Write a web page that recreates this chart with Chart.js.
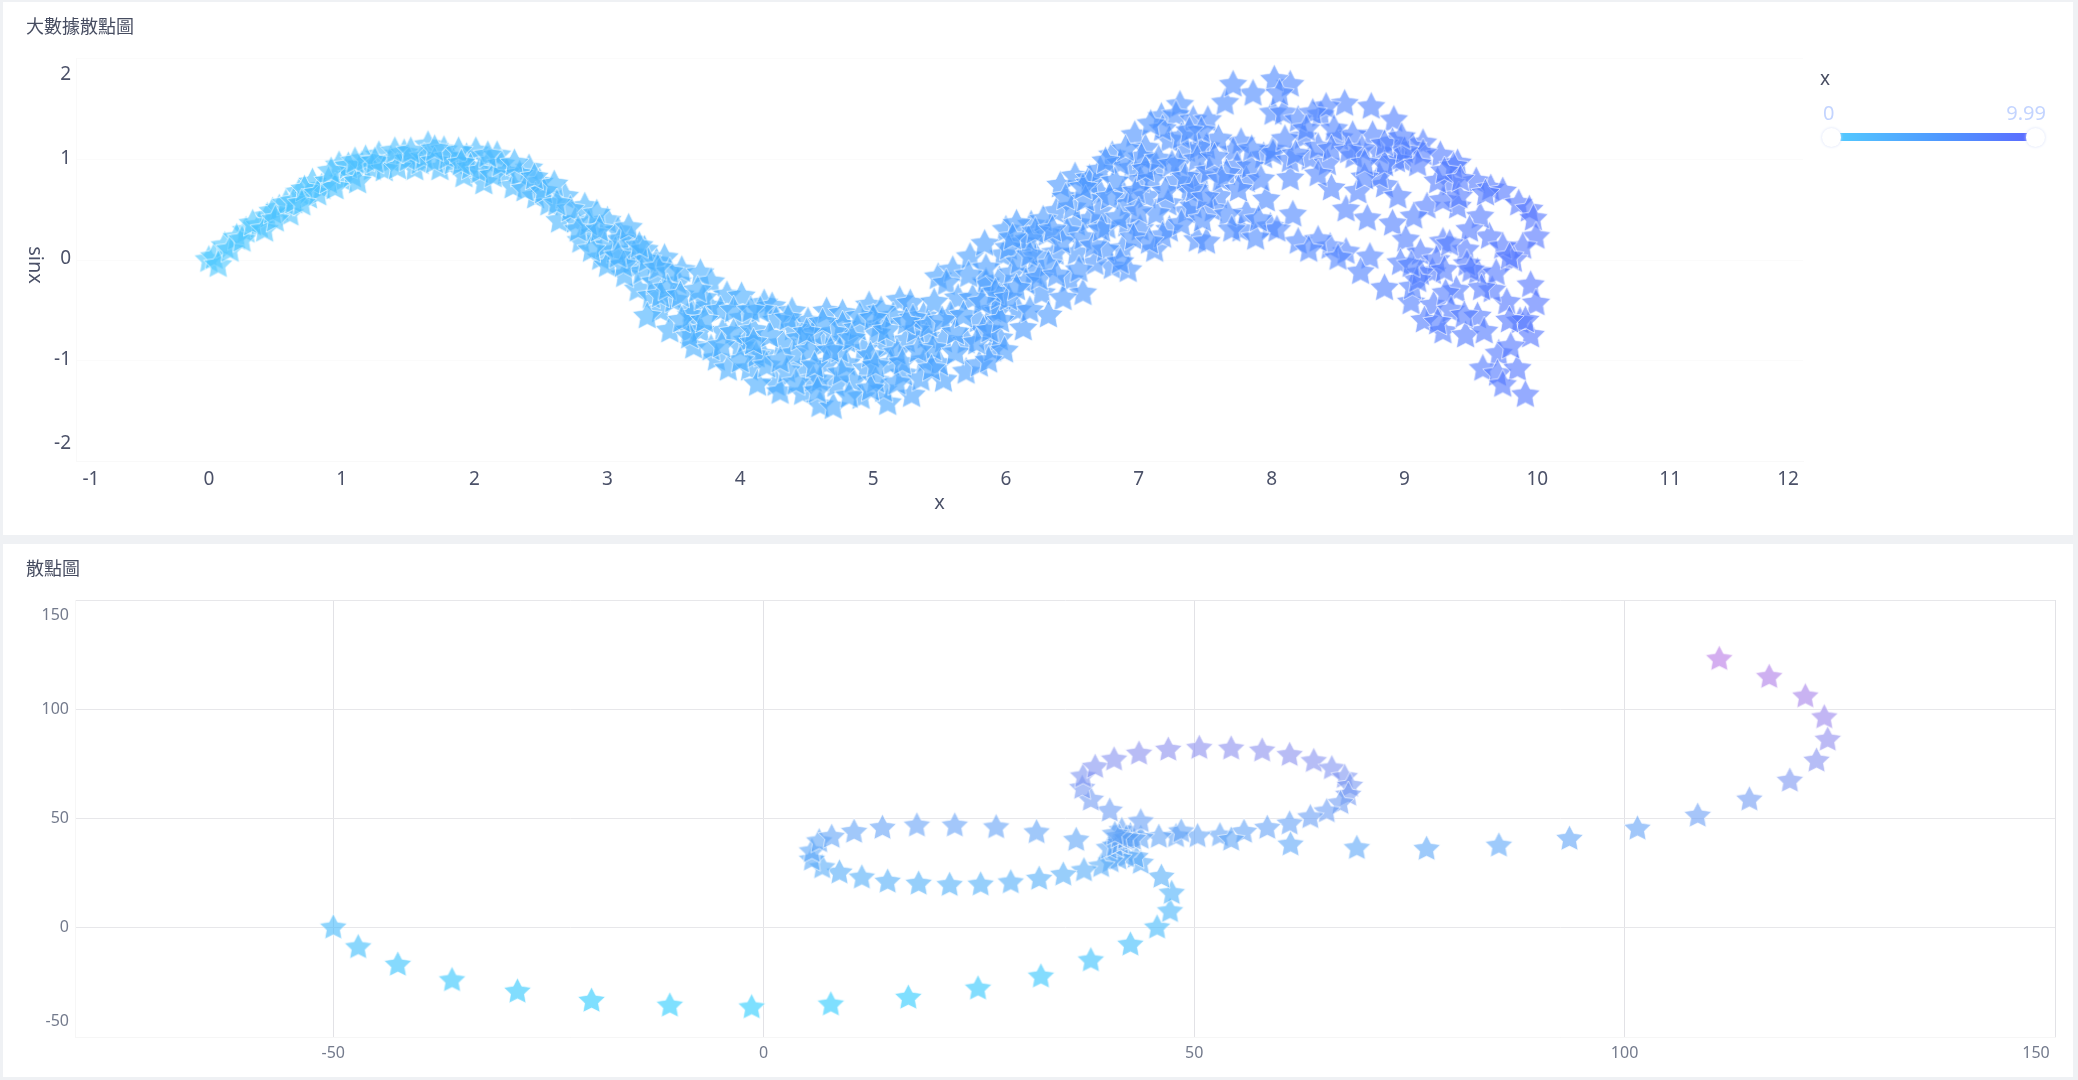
<!DOCTYPE html>
<html>
<head>
<meta charset="utf-8">
<title>散點圖</title>
<script src="https://cdn.jsdelivr.net/npm/chart.js@4"></script>
<style>
html, body { margin: 0; padding: 0; background: #eff1f4; width: 2078px; height: 1080px; overflow: hidden; }
.card { position: absolute; left: 3px; width: 2070px; height: 533px; background: #fff; }
.card canvas { position: absolute; left: 0; top: 0; }
.card-title { position: absolute; left: 23px; top: 10px; font: 18px/26px "Noto Sans CJK TC", sans-serif; color: #464c60; z-index: 2; }
.legend-name { position: absolute; left: 1817px; top: 63px; font: 19px/26px "Noto Sans", sans-serif; color: #464c60; }
.legend-val { position: absolute; top: 97px; font: 20px/28px "Noto Sans", sans-serif; color: #c3d4ff; }
.legend-bar { position: absolute; left: 1837px; top: 131px; width: 187px; height: 8px; background: linear-gradient(to right, #53c8ff, #4f97ff 55%, #5b6dff); }
.legend-handle { position: absolute; top: 125.5px; width: 19px; height: 19px; border-radius: 50%; background: #fff; box-shadow: 0 0 3px #d5def8; }
</style>
</head>
<body>
<div class="card" style="top:2px">
  <div class="card-title">大數據散點圖</div>
  <canvas id="bigScatter" width="2070" height="533"></canvas>
  <div class="legend-name">x</div>
  <div class="legend-val" style="left:1820px" id="legendMin"></div>
  <div class="legend-val" style="right:27px" id="legendMax"></div>
  <div class="legend-bar"></div>
  <div class="legend-handle" style="left:1819px"></div>
  <div class="legend-handle" style="left:2023px"></div>
</div>
<div class="card" style="top:544px">
  <div class="card-title">散點圖</div>
  <canvas id="pathScatter" width="2070" height="533"></canvas>
</div>

<script>
// tick labels
const bigXTicks = [-1, 0, 1, 2, 3, 4, 5, 6, 7, 8, 9, 10, 11, 12];
const bigYTicks = [-2, -1, 0, 1, 2];
const pathXTicks = [-50, 0, 50, 100, 150];
const pathYTicks = [-50, 0, 50, 100, 150];
const legendRange = [0, 9.99];

// top chart
const bigX = [
  0.00, 0.04, 0.12, 0.07, 0.28, 0.21, 0.38, 0.44, 0.53, 0.61, 0.68, 0.75, 0.85, 0.78, 1.01, 0.98, 1.08, 1.15, 1.28, 1.23,
  1.37, 1.47, 1.55, 1.65, 1.59, 1.77, 1.74, 1.84, 1.94, 2.01, 1.92, 2.11, 2.17, 2.07, 2.24, 2.29, 2.41, 2.49, 2.46, 2.56,
  2.68, 2.64, 2.76, 2.83, 3.00, 3.08, 2.95, 2.80, 2.90, 3.18, 3.18, 3.37, 3.43, 3.06, 3.23, 3.13, 3.40, 3.53, 3.63, 3.47,
  3.62, 3.33, 3.00, 3.30,
  3.56, 3.70, 3.78, 3.63, 3.90, 4.01, 4.18, 4.24, 4.39, 4.51, 4.65, 4.77, 4.97, 5.05, 5.20, 5.28, 5.15, 5.38, 5.49, 5.60,
  5.55, 5.73, 5.85, 5.64, 5.79, 5.90, 5.53, 5.70, 5.25, 5.10, 4.93, 4.77, 4.62, 4.55, 4.40, 4.27, 4.02, 3.87, 3.70, 3.65,
  3.82, 3.91, 4.00, 4.07, 4.17, 4.32, 4.47, 4.27, 4.13, 4.30, 4.47, 4.60, 4.70, 4.72, 4.55, 4.80, 4.91, 5.11, 5.08, 5.29,
  5.23, 5.39, 5.53, 5.70, 5.80, 4.95, 5.13, 4.65, 3.62, 5.90, 5.50, 4.40, 4.80, 5.03, 4.60, 4.05, 3.77, 5.40,
  6.41, 6.52, 6.63, 6.80, 6.97, 7.05, 7.17, 7.31, 7.28, 7.41, 7.52, 7.65, 7.86, 7.71, 8.01, 7.77, 7.71, 7.51, 7.36, 7.23,
  7.13, 6.95, 6.86, 7.28, 7.38, 7.06, 6.88, 6.71, 6.63, 6.38, 6.19, 6.00, 6.08, 5.98, 5.84, 6.13, 6.53, 6.76, 6.91, 7.12,
  6.88, 6.80, 6.92, 7.44, 7.51, 7.77, 7.81, 7.60, 7.99, 7.96, 7.94, 8.01, 7.74, 7.56, 7.36, 7.23, 6.48, 6.58, 6.67, 6.37,
  6.23, 6.46, 6.27, 6.09, 5.94, 6.43, 6.32, 6.13, 5.95, 5.99, 5.87, 5.83, 5.85, 5.95, 6.05, 6.53, 6.31, 6.63, 7.01, 7.22,
  7.41, 7.01, 7.13, 7.81, 7.84, 7.66, 7.46, 6.71, 6.21, 5.95, 6.18,
  8.14, 8.02, 8.55, 8.75, 8.92, 9.14, 9.27, 9.40, 9.54, 9.65, 9.74, 9.86, 9.94, 9.97, 9.99, 9.89, 9.82, 9.95, 9.99, 9.87,
  9.95, 9.77, 9.66, 9.55, 9.55, 9.46, 9.29, 9.64, 9.57, 9.40, 9.35, 9.37, 9.17, 9.07, 8.91, 9.01, 9.12, 8.97, 9.21, 8.74,
  8.56, 8.44, 8.20, 8.16, 8.14, 8.04, 8.67, 8.85, 9.05, 9.22, 9.15, 9.29, 9.46, 9.60, 9.71, 9.59, 9.70, 9.85, 9.74, 9.91,
  9.80, 8.72, 8.56, 8.45, 8.65, 8.85, 8.95, 8.62, 8.81, 8.99, 9.06, 8.91, 8.51, 8.37, 8.24, 8.29, 8.09, 8.20, 8.01, 8.42,
  8.76, 9.14, 9.29, 9.41, 9.49, 9.74, 9.69, 9.79, 9.39, 9.31, 9.06, 9.24, 9.47, 8.61, 8.41, 8.31, 8.06, 8.81, 8.94, 8.14,
  9.61, 9.12, 9.34, 9.91, 9.79,
  0.16, 0.25, 0.33, 0.42, 0.48, 0.58, 0.64, 0.72, 0.82, 0.90, 0.95, 1.05, 1.12, 1.18, 1.32, 1.42, 1.50, 1.62, 1.70, 1.80,
  1.88, 1.97, 2.04, 2.14, 2.20, 2.34, 2.38, 2.52, 2.60, 2.72, 2.86, 2.92, 2.98, 3.10, 3.20, 3.28, 3.26, 3.36, 3.47, 3.50,
  3.56, 3.12, 2.88, 3.40,
  3.72, 3.85, 3.95, 4.10, 4.12, 4.22, 4.35, 4.45, 4.52, 4.58, 4.70, 4.75, 4.85, 4.88, 4.98, 5.02, 5.18, 5.18, 5.32, 5.36,
  5.45, 5.58, 5.62, 5.75, 5.85, 5.92, 5.46, 5.30, 5.72, 3.78, 4.00, 4.15, 4.62, 4.90, 5.06,
  6.02, 6.10, 6.17, 6.28, 6.32, 6.42, 6.50, 6.58, 6.70, 6.75, 6.82, 6.92, 6.96, 7.02, 7.10, 7.18, 7.30, 7.32, 7.45, 7.48,
  7.60, 7.92, 7.88, 6.18,
  8.35, 8.47, 8.68, 8.85, 9.00, 8.35, 8.70,
  6.05, 6.15, 6.22, 6.25, 6.35, 6.38, 6.45, 6.55, 6.60, 6.66, 6.72, 6.78, 6.85, 6.86, 6.98, 7.00, 7.05, 7.08, 7.15, 7.20,
  7.25, 7.32, 7.35, 7.42, 7.44, 7.50, 7.53, 7.57, 7.62, 7.67, 7.70, 7.75, 7.85, 7.90, 7.47, 7.38, 7.18, 7.09, 6.90, 6.75,
  6.58,
  0.50, 0.70, 0.92, 1.10, 1.25, 1.40, 1.52, 1.70, 1.90, 2.10, 2.30, 2.45, 2.62, 2.78, 2.94, 3.08, 3.16, 3.30, 3.24, 3.45,
  3.55, 3.38,
  3.68, 3.73, 3.86, 3.95, 4.08, 4.10, 4.20, 4.30, 4.36, 4.42, 4.50, 4.56, 4.68, 4.76, 4.82, 4.84, 4.98, 5.00, 5.02, 5.10,
  5.22, 5.25, 5.34, 5.42, 5.44, 5.52, 5.62, 5.68, 5.78, 5.82, 5.88, 5.96, 6.02, 6.08,
  8.10, 8.18, 8.26, 8.45, 8.58, 8.70, 8.85, 8.98, 9.10, 9.25, 9.30, 9.42, 8.35, 8.28, 8.50, 9.10, 9.30, 9.35, 9.25, 9.45,
  9.05, 9.58, 9.50
];
const bigY = [
  0.00, 0.03, 0.14, -0.05, 0.29, 0.22, 0.34, 0.43, 0.51, 0.46, 0.67, 0.63, 0.72, 0.77, 0.80, 0.94, 0.84, 0.94, 1.04, 0.91,
  0.99, 1.06, 0.91, 1.14, 0.97, 1.09, 0.91, 0.97, 1.02, 1.08, 0.84, 0.97, 1.04, 0.77, 0.87, 0.73, 0.91, 0.77, 0.63, 0.56,
  0.63, 0.39, 0.39, 0.53, 0.39, 0.29, 0.02, 0.19, 0.26, 0.19, -0.02, -0.02, 0.02, 0.09, -0.29, -0.15, -0.50, -0.22, -0.50, -0.70,
  -0.70, -0.36, -0.05, -0.56,
  -0.10, -0.13, -0.22, -0.55, -0.35, -0.36, -0.43, -0.46, -0.51, -0.61, -0.51, -0.53, -0.45, -0.65, -0.40, -0.43, -0.56, -0.56, -0.17, -0.10,
  -0.23, 0.03, -0.22, -0.38, -0.60, -0.50, -0.80, -0.81, -0.80, -0.86, -0.89, -0.65, -0.84, -0.73, -0.68, -0.60, -0.58, -0.71, -0.70, -0.86,
  -0.98, -1.08, -0.86, -1.08, -0.94, -0.83, -1.06, -1.23, -1.23, -1.31, -1.32, -1.44, -1.46, -1.24, -1.19, -1.03, -1.36, -1.42, -1.29, -1.34,
  -1.13, -1.00, -1.19, -1.11, -1.04, -1.08, -1.03, -1.03, -0.76, -0.89, -1.03, -0.93, -0.80, -0.73, -1.19, -0.80, -0.46, -0.76,
  0.74, 0.83, 0.81, 1.04, 1.24, 1.11, 1.42, 1.54, 1.44, 1.39, 1.39, 1.56, 1.65, 1.74, 1.46, 1.17, 1.08, 1.12, 1.09, 1.19,
  0.93, 0.91, 0.96, 0.78, 0.69, 0.63, 0.66, 0.66, 0.76, 0.48, 0.35, 0.30, 0.36, 0.05, 0.16, 0.17, 0.36, 0.33, 0.35, 0.10,
  0.11, -0.07, -0.10, 0.20, 0.18, 0.30, 0.46, 0.63, 0.33, 0.60, 1.03, 1.09, 0.93, 0.50, 0.48, 0.30, -0.20, -0.33, -0.03, 0.07,
  0.03, 0.28, -0.33, -0.50, -0.51, -0.38, -0.55, -0.68, -0.78, -0.90, -1.00, -0.70, -0.23, -0.20, -0.13, 0.07, 0.26, 0.40, 0.31, 0.56,
  0.53, 0.79, 0.46, 0.79, 0.93, 0.86, 0.83, 0.89, -0.13, -0.37, -0.50,
  1.74, 1.79, 1.55, 1.52, 1.39, 1.16, 1.04, 0.96, 0.78, 0.71, 0.68, 0.56, 0.50, 0.41, 0.23, 0.13, 0.00, -0.25, -0.43, -0.61,
  -0.75, -0.42, -0.30, -0.56, -0.12, 0.10, 0.18, 0.23, 0.43, 0.53, 0.76, 0.93, 0.53, 0.43, 0.36, 0.20, 0.07, -0.03, -0.12, 0.03,
  0.08, 0.13, 0.18, 0.45, 0.81, 0.30, -0.12, -0.28, -0.42, -0.45, -0.60, -0.71, -0.75, -0.71, -0.93, -1.08, -1.13, -1.08, -1.24, -1.34,
  -0.86, 0.41, 0.50, 0.71, 0.68, 0.74, 0.63, 1.03, 1.07, 0.99, 1.12, 1.17, 1.21, 1.44, 1.22, 1.01, 1.46, 1.39, 1.06, 0.96,
  1.24, 1.06, 0.59, 0.63, 0.30, 0.13, -0.13, 0.03, -0.30, -0.33, -0.27, 0.00, -0.04, 1.24, 1.52, 1.46, 1.65, 0.83, 0.99, 0.99,
  0.66, -0.13, 0.16, -0.60, -0.60,
  0.10, 0.20, 0.36, 0.30, 0.48, 0.56, 0.58, 0.70, 0.66, 0.78, 0.72, 0.93, 0.78, 1.00, 0.90, 0.92, 1.00, 1.02, 0.98, 1.02,
  1.08, 0.92, 0.88, 0.84, 0.95, 0.85, 0.70, 0.68, 0.75, 0.50, 0.36, 0.46, 0.14, 0.20, 0.06, 0.10, -0.12, -0.22, -0.12, -0.40,
  -0.60, -0.05, 0.10, -0.35,
  -0.38, -0.50, -0.72, -0.70, -0.95, -0.75, -1.10, -0.78, -0.90, -1.30, -0.72, -0.90, -1.20, -0.68, -0.95, -1.20, -0.92, -1.22, -0.70, -1.18,
  -0.88, -0.55, -0.92, -0.38, -0.08, -0.32, -0.42, -0.58, -0.15, -0.88, -1.00, -0.50, -0.62, -0.56, -0.50,
  0.12, -0.02, 0.20, 0.40, -0.05, 0.18, 0.52, 0.22, 0.48, 0.10, 0.78, 0.55, 0.22, 1.02, 0.80, 0.24, 0.96, 0.36, 1.12, 0.40,
  1.20, 0.80, 0.22, 0.05,
  1.12, 1.30, 1.10, 0.95, 1.08, 0.85, 0.82,
  0.22, -0.22, 0.28, -0.18, 0.30, -0.15, 0.62, -0.10, 0.60, 0.14, 0.30, 0.62, 0.42, -0.02, 0.68, 0.48, 0.90, 0.18, 1.00, 0.68,
  0.95, 1.22, 0.82, 0.70, 1.00, 0.62, 0.88, 1.02, 0.80, 0.45, 0.30, 0.70, 1.10, 0.40, 1.28, 1.28, 1.30, 1.35, 1.10, 0.98,
  0.72,
  0.40, 0.56, 0.88, 0.98, 0.98, 1.08, 1.08, 1.10, 0.96, 1.04, 0.96, 0.82, 0.56, 0.30, 0.30, 0.04, 0.32, 0.00, 0.14, -0.28,
  -0.35, -0.08,
  -0.30, -0.60, -0.85, -0.50, -0.50, -0.82, -1.05, -1.00, -0.58, -1.22, -0.72, -1.05, -0.90, -1.12, -1.35, -0.78, -1.28, -0.58, -1.05, -0.70,
  -1.02, -0.62, -0.90, -0.65, -1.08, -0.60, -0.72, -0.55, -0.82, -0.42, -0.70, -0.60, -0.38, -0.28,
  1.20, 1.05, 1.30, 1.10, 1.08, 0.96, 1.15, 1.22, 0.95, 0.78, 0.88, 0.80, 0.20, 0.10, 0.02, -0.20, -0.10, -0.50, -0.62, -0.55,
  -0.05, -0.28, -0.10
];

// bottom chart, points in drawing order along the path
const pathX = [
  -50, -47.1, -42.5, -36.2, -28.6, -20, -10.9, -1.4, 7.8, 16.8, 24.9, 32.2, 38, 42.6, 45.7, 47.2, 47.4, 46.2, 43.8, 43.2,
  42.1, 41.2, 40.3, 39.2, 37.2, 34.8, 32, 28.7, 25.2, 21.6, 18, 14.4, 11.4, 8.8, 6.8, 5.6, 5.6, 6.45, 7.9, 10.5,
  13.8, 17.8, 22.2, 27, 31.7, 36.3, 40.1, 40.8, 41.4, 42, 42.6, 41.6, 40.2, 38, 37, 37.1, 38.5, 40.7, 43.6, 47,
  50.6, 54.3, 57.9, 61.1, 63.9, 66, 67.5, 68.1, 67.9, 67, 65.4, 63.5, 61.1, 58.5, 55.8, 53, 50.4, 47.9, 45.9, 43.8,
  42.9, 42.1, 41.3, 40.8, 43.8, 48.5, 54.3, 61.2, 68.9, 77, 85.4, 93.6, 101.5, 108.5, 114.5, 119.2, 122.3, 123.6, 123.2, 121,
  116.8, 111
];
const pathY = [
  0, -9, -17, -24.1, -29.3, -33.5, -35.7, -36.5, -35.2, -32.1, -27.9, -22.4, -15, -7.8, 0, 7.5, 15.8, 23.2, 29.6, 32.3,
  32.6, 31.6, 30.3, 28.1, 26.2, 24.2, 22.3, 20.7, 19.7, 19.5, 20.1, 21, 22.9, 25.2, 27.6, 31.1, 34.9, 39.5, 41.5, 43.8,
  45.6, 46.7, 46.7, 45.9, 43.6, 40.1, 36.4, 37.5, 38.8, 40.4, 42.2, 44.6, 53.5, 58.5, 63.9, 69.2, 73.5, 76.9, 79.6, 81.4,
  82.2, 81.9, 81, 79, 76.2, 72.9, 68.9, 64.9, 60.8, 57, 53.2, 50.5, 47.6, 45.6, 43.8, 42.2, 41.8, 41.8, 41.5, 41,
  40.6, 41, 41.6, 42.8, 48.6, 44, 40.2, 38, 36.4, 36, 37.5, 40.6, 45.3, 51.2, 58.6, 67.2, 76.4, 86, 96.2, 105.8,
  114.7, 122.9
];
const pathYRange = [-36.5, 122.9];

const bigColors = [[78, 200, 255], [70, 165, 255], [84, 118, 255]];
const pathColors = [[40, 203, 255], [97, 163, 247], [183, 120, 230]];

function mixColor(stops, t) {
    const pos = Math.min(Math.max(t, 0), 1) * (stops.length - 1);
    const i = Math.min(Math.floor(pos), stops.length - 2);
    const f = pos - i;
    return stops[i].map((c, k) => Math.round(c + (stops[i + 1][k] - c) * f));
}

// Chart.js has no filled star, so each colour gets a small canvas used as pointStyle
const starCache = {};
function starImage(rgb, alpha, rx, ry) {
    const key = rgb.join(',') + '/' + alpha + '/' + rx;
    if (starCache[key]) return starCache[key];
    const cv = document.createElement('canvas');
    cv.width = Math.ceil(rx * 2 + 4);
    cv.height = Math.ceil(ry * 2 + 4);
    const c = cv.getContext('2d');
    c.translate(cv.width / 2, cv.height / 2);
    c.beginPath();
    for (let i = 0; i < 10; i++) {
        const r = i % 2 ? 0.5 : 1;
        const a = -Math.PI / 2 + i * Math.PI / 5;
        c.lineTo(Math.cos(a) * rx * r, Math.sin(a) * ry * r);
    }
    c.closePath();
    c.fillStyle = 'rgba(' + rgb.join(',') + ',' + alpha + ')';
    c.fill();
    c.strokeStyle = 'rgba(255,255,255,0.65)';
    c.lineWidth = 1;
    c.stroke();
    starCache[key] = cv;
    return cv;
}

// echarts-style edge labels: draw tick text ourselves so first/last can be pulled inside the plot
const tickLabelPlugin = {
    id: 'tickLabels',
    afterDatasetsDraw(chart, args, opts) {
        const ctx = chart.ctx;
        const xs = chart.scales.x;
        const ys = chart.scales.y;
        ctx.save();
        ctx.font = opts.font;
        ctx.fillStyle = opts.color;
        ctx.textBaseline = 'middle';
        ctx.textAlign = 'center';
        xs.ticks.forEach(t => {
            const shift = opts.xShift[t.value] || 0;
            ctx.fillText(String(t.value), xs.getPixelForValue(t.value) + shift, opts.xLabelY);
        });
        ctx.textAlign = 'right';
        ys.ticks.forEach(t => {
            const shift = opts.yShift[t.value] || 0;
            ctx.fillText(String(t.value), opts.yLabelX, ys.getPixelForValue(t.value) + shift);
        });
        if (opts.xTitle) {
            ctx.font = opts.titleFont;
            ctx.textAlign = 'center';
            ctx.fillText(opts.xTitle, (xs.left + xs.right) / 2, opts.xTitleY);
            ctx.translate(opts.yTitleX, opts.yTitleY);
            ctx.rotate(Math.PI / 2);
            ctx.fillText(opts.yTitle, 0, 0);
        }
        ctx.restore();
    }
};

function fixedAxis(min, max, ticks, grid) {
    return {
        type: 'linear',
        min: min,
        max: max,
        afterBuildTicks: s => { s.ticks = ticks.map(v => ({ value: v })); },
        afterFit: s => { if (s.isHorizontal()) s.height = 0; else s.width = 0; },
        ticks: { display: false, autoSkip: false },
        border: { display: true, color: grid.border },
        grid: { color: grid.color, lineWidth: 1, drawTicks: false }
    };
}

const bigPoints = bigX.map((x, i) => ({ x: x, y: bigY[i] }));
const pathPoints = pathX.map((x, i) => ({ x: x, y: pathY[i] }));

new Chart(document.getElementById('bigScatter'), {
    type: 'scatter',
    data: {
        datasets: [{
            label: 'sinx',
            data: bigPoints,
            pointRadius: 15,
            pointStyle: ctx => starImage(mixColor(bigColors, ctx.raw.x / legendRange[1]), 0.62, 15.5, 15.5)
        }]
    },
    plugins: [tickLabelPlugin],
    options: {
        responsive: false,
        animation: false,
        layout: { padding: { left: 73, right: 270, top: 56.5, bottom: 73.5 } },
        scales: {
            x: fixedAxis(-1, 12, bigXTicks, { color: 'rgba(0,0,0,0)', border: '#f9f9f9' }),
            y: fixedAxis(-2, 2, bigYTicks, { color: '#fbfbfb', border: '#f9f9f9' })
        },
        plugins: {
            legend: { display: false },
            tooltip: { enabled: false },
            tickLabels: {
                font: '19px "Noto Sans", sans-serif',
                titleFont: '20px "Noto Sans", sans-serif',
                color: '#4b5168',
                xLabelY: 478,
                xShift: { '-1': 15, '12': -15 },
                yLabelX: 68,
                yShift: { '2': 16, '1': -1, '0': -1, '-1': -1, '-2': -18 },
                xTitle: 'x',
                xTitleY: 501,
                yTitle: 'sinx',
                yTitleX: 32,
                yTitleY: 263
            }
        }
    }
});

new Chart(document.getElementById('pathScatter'), {
    type: 'scatter',
    data: {
        datasets: [{
            label: '散點圖',
            data: pathPoints,
            pointRadius: 14,
            pointStyle: ctx => starImage(mixColor(pathColors, (ctx.raw.y - pathYRange[0]) / (pathYRange[1] - pathYRange[0])), 0.6, 14.5, 14)
        }]
    },
    plugins: [tickLabelPlugin],
    options: {
        responsive: false,
        animation: false,
        layout: { padding: { left: 72, right: 18, top: 56, bottom: 40 } },
        scales: {
            x: fixedAxis(-80, 150, pathXTicks, { color: '#e2e2e6', border: '#f6f6f6' }),
            y: fixedAxis(-50, 150, pathYTicks, { color: '#e7e7ea', border: '#f6f6f6' })
        },
        plugins: {
            legend: { display: false },
            tooltip: { enabled: false },
            tickLabels: {
                font: '16px "Noto Sans", sans-serif',
                color: '#737a8c',
                xLabelY: 509,
                xShift: { '150': -19 },
                yLabelX: 66,
                yShift: { '150': 15, '100': 0, '50': 0, '0': 0, '-50': -16 }
            }
        }
    }
});

document.getElementById('legendMin').textContent = legendRange[0];
document.getElementById('legendMax').textContent = legendRange[1];
</script>
</body>
</html>
